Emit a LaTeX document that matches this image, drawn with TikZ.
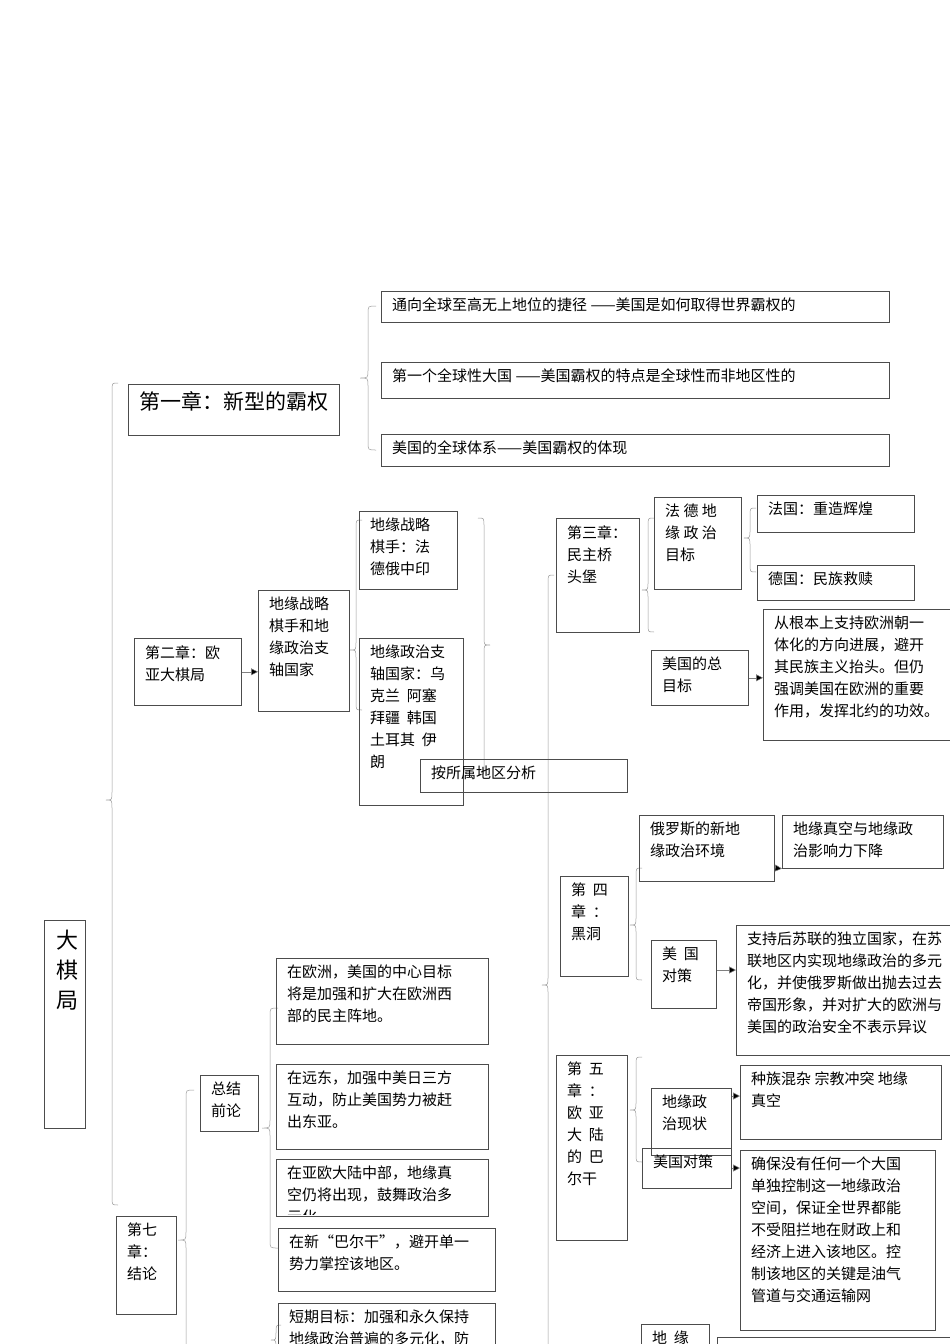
\documentclass[tikz,border=0pt]{standalone}
\usepackage{fontspec}
\setmainfont{Noto Sans CJK SC}
\usetikzlibrary{arrows.meta}
\newcommand{\bx}[7][\fontsize{15}{22}\selectfont]{%
  \node[boxsty,minimum width=#5-#3,minimum height=#6-#4] (#2) at (#3,#4) {};
  \node[txt,font=#1] at (#3+11,#4+7) {#7};}
\newcommand{\lbr}[5]{% x, y1, y2, ym, w
  \draw[brc] (#1+#5,#2) .. controls (#1,#2) .. (#1,#2+8) -- (#1,#4-8) .. controls (#1,#4) .. (#1-#5,#4) .. controls (#1,#4) .. (#1,#4+8) -- (#1,#3-8) .. controls (#1,#3) .. (#1+#5,#3);}
\begin{document}
\begin{tikzpicture}[x=1pt,y=-1pt,
  boxsty/.style={draw=black!70,line width=0.6pt,anchor=north west,inner sep=0pt},
  txt/.style={anchor=north west,align=left,inner sep=0pt},
  brc/.style={draw=black!40,line width=0.5pt},
  arr/.style={draw=black!50,line width=0.5pt,-{Triangle[length=7pt,width=7pt,fill=black]}}]
\useasboundingbox (0,0) rectangle (950,1344);
\clip (0,0) rectangle (950,1344);
\fill[white] (0,0) rectangle (950,1344);
% braces
\lbr{112}{383}{1205}{800}{6}
\lbr{368}{306}{450}{378}{8}
\lbr{356}{520}{710}{650}{6}
\lbr{484}{518}{775}{645}{-6}
\lbr{548}{575}{1400}{985}{6}
\lbr{648}{518}{632}{590}{6}
\lbr{750}{508}{572}{538}{6}
\lbr{636}{868}{980}{925}{6}
\lbr{636}{1057}{1162}{1110}{6}
\lbr{186}{1090}{1400}{1240}{8}
\lbr{270}{1008}{1248}{1128}{8}
\lbr{276}{1325}{1400}{1340}{5}
% boxes
\node[boxsty,minimum width=41,minimum height=208] (root) at (44,920) {};
\node[txt,font=\fontsize{22}{30}\selectfont] at (56,930) {大\\棋\\局};
\bx[\fontsize{21}{28}\selectfont]{c1}{128}{384}{339}{435}{第一章：新型的霸权}
\bx{t1}{381}{291}{889}{322}{通向全球至高无上地位的捷径 ——美国是如何取得世界霸权的}
\bx{t2}{381}{362}{889}{398}{第一个全球性大国 ——美国霸权的特点是全球性而非地区性的}
\bx{t3}{381}{434}{889}{466}{美国的全球体系——美国霸权的体现}
\bx{c2}{134}{638}{241}{705}{第二章：欧\\亚大棋局}
\bx{g}{258}{590}{349}{711}{地缘战略\\棋手和地\\缘政治支\\轴国家}
\bx{g1}{359}{511}{457}{589}{地缘战略\\棋手：法\\德俄中印}
\bx{g2}{359}{638}{463}{805}{地缘政治支\\轴国家：乌\\克兰 \ 阿塞\\拜疆 \ 韩国\\土耳其 \ 伊\\朗}
\bx{an}{420}{759}{627}{792}{按所属地区分析}
\bx{c3}{556}{518}{639}{632}{第三章：\\民主桥\\头堡}
\bx{fd}{654}{497}{741}{589}{法 德 地\\缘 政 治\\目标}
\bx{fr}{757}{495}{914}{532}{法国：重造辉煌}
\bx{de}{757}{565}{914}{600}{德国：民族救赎}
\bx{mz}{651}{650}{748}{705}{美国的总\\目标}
\bx{eu}{763}{609}{960}{740}{从根本上支持欧洲朝一\\体化的方向进展，避开\\其民族主义抬头。但仍\\强调美国在欧洲的重要\\作用，发挥北约的功效。}
\bx{ru}{639}{815}{774}{881}{俄罗斯的新地\\缘政治环境}
\bx{rv}{782}{815}{943}{868}{地缘真空与地缘政\\治影响力下降}
\bx{c4}{560}{876}{628}{976}{第 \ 四\\章 \ ：\\黑洞}
\bx{md4}{651}{940}{716}{1008}{美 \ 国\\对策}
\bx{sp}{736}{925}{960}{1055}{支持后苏联的独立国家，在苏\\联地区内实现地缘政治的多元\\化，并使俄罗斯做出抛去过去\\帝国形象，并对扩大的欧洲与\\美国的政治安全不表示异议}
\bx{c5}{556}{1055}{627}{1240}{第 \ 五\\章 \ ：\\欧 \ 亚\\大 \ 陆\\的 \ 巴\\尔干}
\bx{xz}{651}{1088}{731}{1155}{地缘政\\治现状}
\bx{zz}{740}{1065}{941}{1139}{种族混杂 宗教冲突 地缘\\真空}
\bx{md5}{642}{1148}{731}{1188}{美国对策}
\bx{qb}{740}{1150}{935}{1330}{确保没有任何一个大国\\单独控制这一地缘政治\\空间，保证全世界都能\\不受阻拦地在财政上和\\经济上进入该地区。控\\制该地区的关键是油气\\管道与交通运输网}
\bx{dy}{641}{1324}{709}{1400}{地 \ 缘}
\node[boxsty,minimum width=250,minimum height=60] (dz) at (717,1337) {};
\bx{c7}{116}{1216}{176}{1314}{第七\\章：\\结论}
\bx{zj}{200}{1075}{258}{1131}{总结\\前论}
\bx{e1}{276}{958}{488}{1044}{在欧洲，美国的中心目标\\将是加强和扩大在欧洲西\\部的民主阵地。}
\bx{e2}{276}{1064}{488}{1149}{在远东，加强中美日三方\\互动，防止美国势力被赶\\出东亚。}
\begin{scope}
\clip (276,1159) rectangle (488,1214);
\bx{e3}{276}{1159}{488}{1216}{在亚欧大陆中部，地缘真\\空仍将出现，鼓舞政治多\\元化}
\end{scope}
\draw[black!70,line width=0.6pt] (276,1159) rectangle (488,1216);
\bx{e4}{278}{1228}{495}{1291}{在新“巴尔干”，避开单一\\势力掌控该地区。}
\bx{e5}{278}{1303}{495}{1400}{短期目标：加强和永久保持\\地缘政治普遍的多元化，防}
% arrows
\draw[arr] (c2.east) -- (g.west|-c2.east);
\draw[arr] (mz.east) -- (eu.west|-mz.east);
\draw[arr] (ru.east|-0,868) -- (rv.south west);
\draw[arr] (md4.east|-0,970) -- (sp.west|-0,970);
\draw[arr] (xz.east|-0,1096) -- (zz.west|-0,1096);
\draw[arr] (md5.east|-0,1168) -- (qb.west|-0,1168);
\end{tikzpicture}
\end{document}
